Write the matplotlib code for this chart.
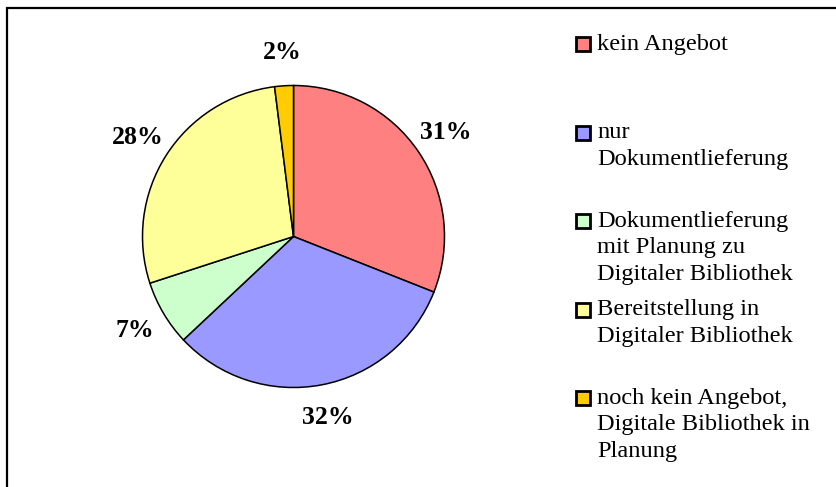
import matplotlib.pyplot as plt
from matplotlib.patches import Rectangle

categories = [
    "kein Angebot",
    "nur\nDokumentlieferung",
    "Dokumentlieferung\nmit Planung zu\nDigitaler Bibliothek",
    "Bereitstellung in\nDigitaler Bibliothek",
    "noch kein Angebot,\nDigitale Bibliothek in\nPlanung",
]
shares = [31, 32, 7, 28, 2]
colors = ["#FF8080", "#9999FF", "#CCFFCC", "#FFFF99", "#FFCC00"]

plt.rcParams["font.family"] = ["Liberation Serif", "DejaVu Serif"]

W, H = 837, 487
fig = plt.figure(figsize=(W / 100, H / 100), dpi=100)

# outer chart frame (cropped on right and bottom)
fig.patches.append(Rectangle((7 / W, -0.05), 1.2, 1 - 8 / H + 0.05,
                             transform=fig.transFigure, fill=False,
                             edgecolor="black", linewidth=1.6))

cx, cy, r = 293.5, 236.5, 151
ax = fig.add_axes([(cx - r) / W, (H - cy - r) / H, 2 * r / W, 2 * r / H])
wedges, texts, autotexts = ax.pie(
    shares, colors=colors, startangle=90, counterclock=False,
    autopct=lambda p: f"{p:.0f}%", pctdistance=1.22,
    wedgeprops=dict(edgecolor="black", linewidth=1.1),
    textprops=dict(fontsize=18.5, fontweight="bold"))
ax.set_xlim(-1, 1)
ax.set_ylim(-1, 1)
ax.set_aspect("equal")

# legend drawn manually: evenly spaced entries
y0, step = 44, 88.5
for i, (w, lab) in enumerate(zip(wedges, categories)):
    y = y0 + i * step
    fig.patches.append(Rectangle((576 / W, (H - y - 7) / H), 14 / W, 14 / H,
                                 transform=fig.transFigure,
                                 facecolor=w.get_facecolor(),
                                 edgecolor="black", linewidth=2))
    fig.text(597 / W, (H - y + 10) / H, lab, fontsize=17.6, va="top",
             ha="left", linespacing=1.33)

fig.savefig("out.png", dpi=100)
